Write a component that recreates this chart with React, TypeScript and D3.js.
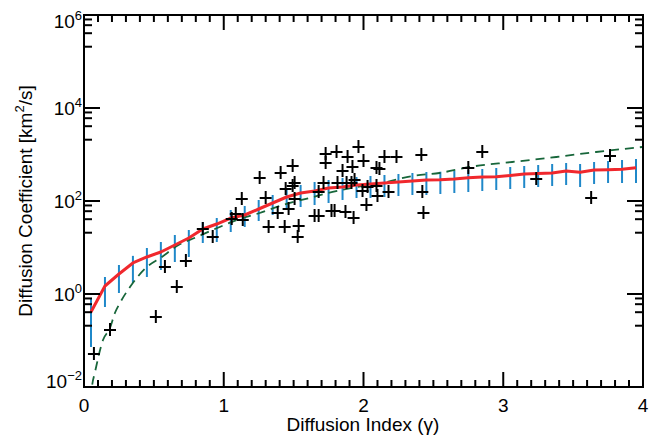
import React from "react";
import * as d3 from "d3";

// ---------- data ----------
const scatterGamma = [
  0.071, 0.186, 0.514, 0.664, 0.579, 0.729, 0.85, 0.921, 1.057, 1.086, 1.136, 1.129,
  1.257, 1.3, 1.321, 1.407, 1.493, 1.443, 1.493, 1.507, 1.507, 1.436, 1.536, 1.529,
  1.464, 1.386, 1.65, 1.679, 1.679, 1.714, 1.729, 1.729, 1.807, 1.814, 1.771, 1.793,
  1.85, 1.886, 1.921, 1.871, 1.929, 1.879, 1.914, 1.936, 1.964, 2.0, 1.993, 2.021,
  2.029, 2.093, 2.114, 2.093, 2.1, 2.15, 2.179, 2.236, 2.414, 2.421, 2.429, 2.75,
  2.85, 3.236, 3.629, 3.764,
];
const scatterLogD = [
  -1.29, -0.774, -0.495, 0.151, 0.581, 0.71, 1.398, 1.226, 1.613, 1.72, 1.591, 2.043,
  2.495, 2.065, 1.441, 2.602, 2.753, 2.258, 2.323, 2.387, 2.043, 1.441, 1.462, 1.226,
  1.828, 1.742, 1.677, 1.677, 2.194, 2.387, 3.011, 2.817, 3.054, 2.387, 1.785, 1.785,
  2.645, 2.946, 2.731, 1.763, 1.634, 2.387, 2.387, 2.452, 3.161, 2.86, 2.215, 1.914,
  2.301, 2.71, 2.688, 2.323, 2.108, 2.946, 2.194, 2.946, 2.989, 2.194, 1.742, 2.71,
  3.054, 2.473, 2.065, 2.968,
];

const binGamma = [
  0.05, 0.15, 0.25, 0.35, 0.45, 0.55, 0.65, 0.75, 0.85, 0.95, 1.05, 1.15, 1.25, 1.35,
  1.45, 1.55, 1.65, 1.75, 1.85, 1.95, 2.05, 2.15, 2.25, 2.35, 2.45, 2.55, 2.65, 2.75,
  2.85, 2.95, 3.05, 3.15, 3.25, 3.35, 3.45, 3.55, 3.65, 3.75, 3.85, 3.95,
];
const binMeanLogD = [
  -0.387, 0.172, 0.43, 0.667, 0.796, 0.903, 1.054, 1.204, 1.398, 1.505, 1.634, 1.699,
  1.828, 1.957, 2.086, 2.172, 2.215, 2.28, 2.301, 2.344, 2.366, 2.387, 2.409, 2.43,
  2.452, 2.458, 2.473, 2.501, 2.516, 2.523, 2.548, 2.581, 2.591, 2.602, 2.645, 2.617,
  2.667, 2.673, 2.682, 2.716,
];
const binHighLogD = [
  -0.086, 0.366, 0.624, 0.82, 0.989, 1.118, 1.269, 1.376, 1.548, 1.634, 1.806, 1.892,
  2.022, 2.129, 2.237, 2.344, 2.409, 2.452, 2.495, 2.516, 2.538, 2.559, 2.581, 2.602,
  2.624, 2.63, 2.645, 2.667, 2.688, 2.71, 2.731, 2.753, 2.774, 2.796, 2.817, 2.796,
  2.839, 2.86, 2.882, 2.903,
];
const binLowLogD = [
  -1.14, -0.28, 0.022, 0.237, 0.366, 0.516, 0.688, 0.796, 1.097, 1.118, 1.333, 1.441,
  1.57, 1.699, 1.806, 1.871, 1.914, 1.957, 2.022, 2.065, 2.065, 2.086, 2.108, 2.129,
  2.129, 2.151, 2.172, 2.194, 2.215, 2.237, 2.258, 2.28, 2.301, 2.323, 2.344, 2.301,
  2.366, 2.387, 2.387, 2.387,
];

const modelGamma = [
  0.04, 0.057, 0.079, 0.136, 0.186, 0.221, 0.257, 0.329, 0.45, 0.557, 0.664, 0.807,
  0.971, 1.093, 1.257, 1.421, 1.614, 1.779, 1.95, 2.164, 2.35, 2.543, 2.757, 3.064,
  3.379, 3.664, 3.993,
];
const modelLogD = [
  -2.6, -2.0, -1.677, -0.989, -0.731, -0.409, -0.194, 0.151, 0.581, 0.796, 1.032, 1.226,
  1.441, 1.591, 1.742, 1.914, 2.065, 2.194, 2.301, 2.409, 2.538, 2.602, 2.731, 2.839,
  2.946, 3.054, 3.161,
];

const xTicks = [0, 1, 2, 3, 4];
const yTickExponents = [-2, 0, 2, 4, 6];

// ---------- layout ----------
const W = 650;
const H = 437;
const L = 84;
const R = 643;
const T = 15;
const B = 387;
const FONT = "'Liberation Sans', Arial, Helvetica, sans-serif";

export default function App() {
  const x = d3.scaleLinear().domain([0, 4]).range([L, R]);
  const y = d3.scaleLog().domain([1e-2, 1e6]).range([B, T]);
  const p10 = (v: number) => Math.pow(10, v);

  const redLine = d3
    .line<number>()
    .x((_, i) => x(binGamma[i]))
    .y((_, i) => y(p10(binMeanLogD[i])));
  const greenLine = d3
    .line<number>()
    .x((_, i) => x(modelGamma[i]))
    .y((_, i) => y(p10(modelLogD[i])))
    .curve(d3.curveMonotoneX);

  // minor ticks: linear subdivisions of each 2-decade span
  const yMinor: number[] = [];
  for (let e = -2; e < 6; e += 2) {
    const lo = p10(e);
    const hi = p10(e + 2);
    for (let k = 1; k <= 4; k++) yMinor.push(lo + ((hi - lo) * k) / 5);
  }
  const xMinor: number[] = [];
  for (let i = 1; i < 40; i++) if (i % 10 !== 0) xMinor.push(i / 10);

  const stroke = "#000";
  const half = 6;

  return (
    <svg
      width={W}
      height={H}
      style={{ position: "absolute", left: 0, top: 0, background: "#fff" }}
      fontFamily={FONT}
    >
      <defs>
        <clipPath id="plotClip">
          <rect x={L} y={T} width={R - L} height={B - T} />
        </clipPath>
      </defs>

      <g clipPath="url(#plotClip)">
        {/* error bars */}
        {binGamma.map((g, i) => (
          <line
            key={"eb" + i}
            x1={x(g)}
            x2={x(g)}
            y1={y(p10(binHighLogD[i]))}
            y2={y(p10(binLowLogD[i]))}
            stroke="#1f88c9"
            strokeWidth={2}
          />
        ))}
        {/* model dashed */}
        <path
          d={greenLine(modelGamma) || ""}
          fill="none"
          stroke="#17663a"
          strokeWidth={1.8}
          strokeDasharray="9,6"
        />
        {/* mean line */}
        <path
          d={redLine(binGamma) || ""}
          fill="none"
          stroke="#f0282d"
          strokeWidth={3}
          strokeLinejoin="round"
        />
        {/* scatter */}
        {scatterGamma.map((g, i) => {
          const cx = x(g);
          const cy = y(p10(scatterLogD[i]));
          return (
            <g key={"p" + i} stroke={stroke} strokeWidth={2}>
              <line x1={cx - half} x2={cx + half} y1={cy} y2={cy} />
              <line x1={cx} x2={cx} y1={cy - half - 1} y2={cy + half} />
            </g>
          );
        })}
      </g>

      {/* frame */}
      <rect x={L} y={T} width={R - L} height={B - T} fill="none" stroke={stroke} strokeWidth={2} />

      {/* x ticks */}
      {xTicks.map((t) => (
        <g key={"xt" + t} stroke={stroke} strokeWidth={2}>
          <line x1={x(t)} x2={x(t)} y1={B} y2={B - 15} />
          <line x1={x(t)} x2={x(t)} y1={T} y2={T + 15} />
        </g>
      ))}
      {xMinor.map((t) => (
        <g key={"xm" + t} stroke={stroke} strokeWidth={2}>
          <line x1={x(t)} x2={x(t)} y1={B} y2={B - 7} />
          <line x1={x(t)} x2={x(t)} y1={T} y2={T + 7} />
        </g>
      ))}
      {xTicks.map((t) => (
        <text
          key={"xl" + t}
          x={x(t)}
          y={412}
          textAnchor="middle"
          fontSize={19}
          fill="#000"
        >
          {t}
        </text>
      ))}

      {/* y ticks */}
      {yTickExponents.map((e) => (
        <g key={"yt" + e} stroke={stroke} strokeWidth={2}>
          <line x1={L} x2={L + 16} y1={y(p10(e))} y2={y(p10(e))} />
          <line x1={R} x2={R - 16} y1={y(p10(e))} y2={y(p10(e))} />
        </g>
      ))}
      {yMinor.map((v, i) => (
        <g key={"ym" + i} stroke={stroke} strokeWidth={2}>
          <line x1={L} x2={L + 8} y1={y(v)} y2={y(v)} />
          <line x1={R} x2={R - 8} y1={y(v)} y2={y(v)} />
        </g>
      ))}
      {yTickExponents.map((e) => {
        const cy = Math.min(Math.max(y(p10(e)), 21), 381);
        return (
          <text
            key={"yl" + e}
            x={82}
            y={cy + 7}
            textAnchor="end"
            fontSize={19}
            fill="#000"
          >
            10
            <tspan fontSize={13} dy={-8}>
              {e < 0 ? "\u2212" + Math.abs(e) : String(e)}
            </tspan>
          </text>
        );
      })}

      {/* axis titles */}
      <text x={363} y={431} textAnchor="middle" fontSize={19} fill="#000">
        Diffusion Index (γ)
      </text>
      <text
        transform="translate(32,201) rotate(-90)"
        textAnchor="middle"
        fontSize={19}
        fill="#000"
      >
        Diffusion Coefficient [km
        <tspan fontSize={13} dy={-8}>
          2
        </tspan>
        <tspan dy={8}>/s]</tspan>
      </text>
    </svg>
  );
}
